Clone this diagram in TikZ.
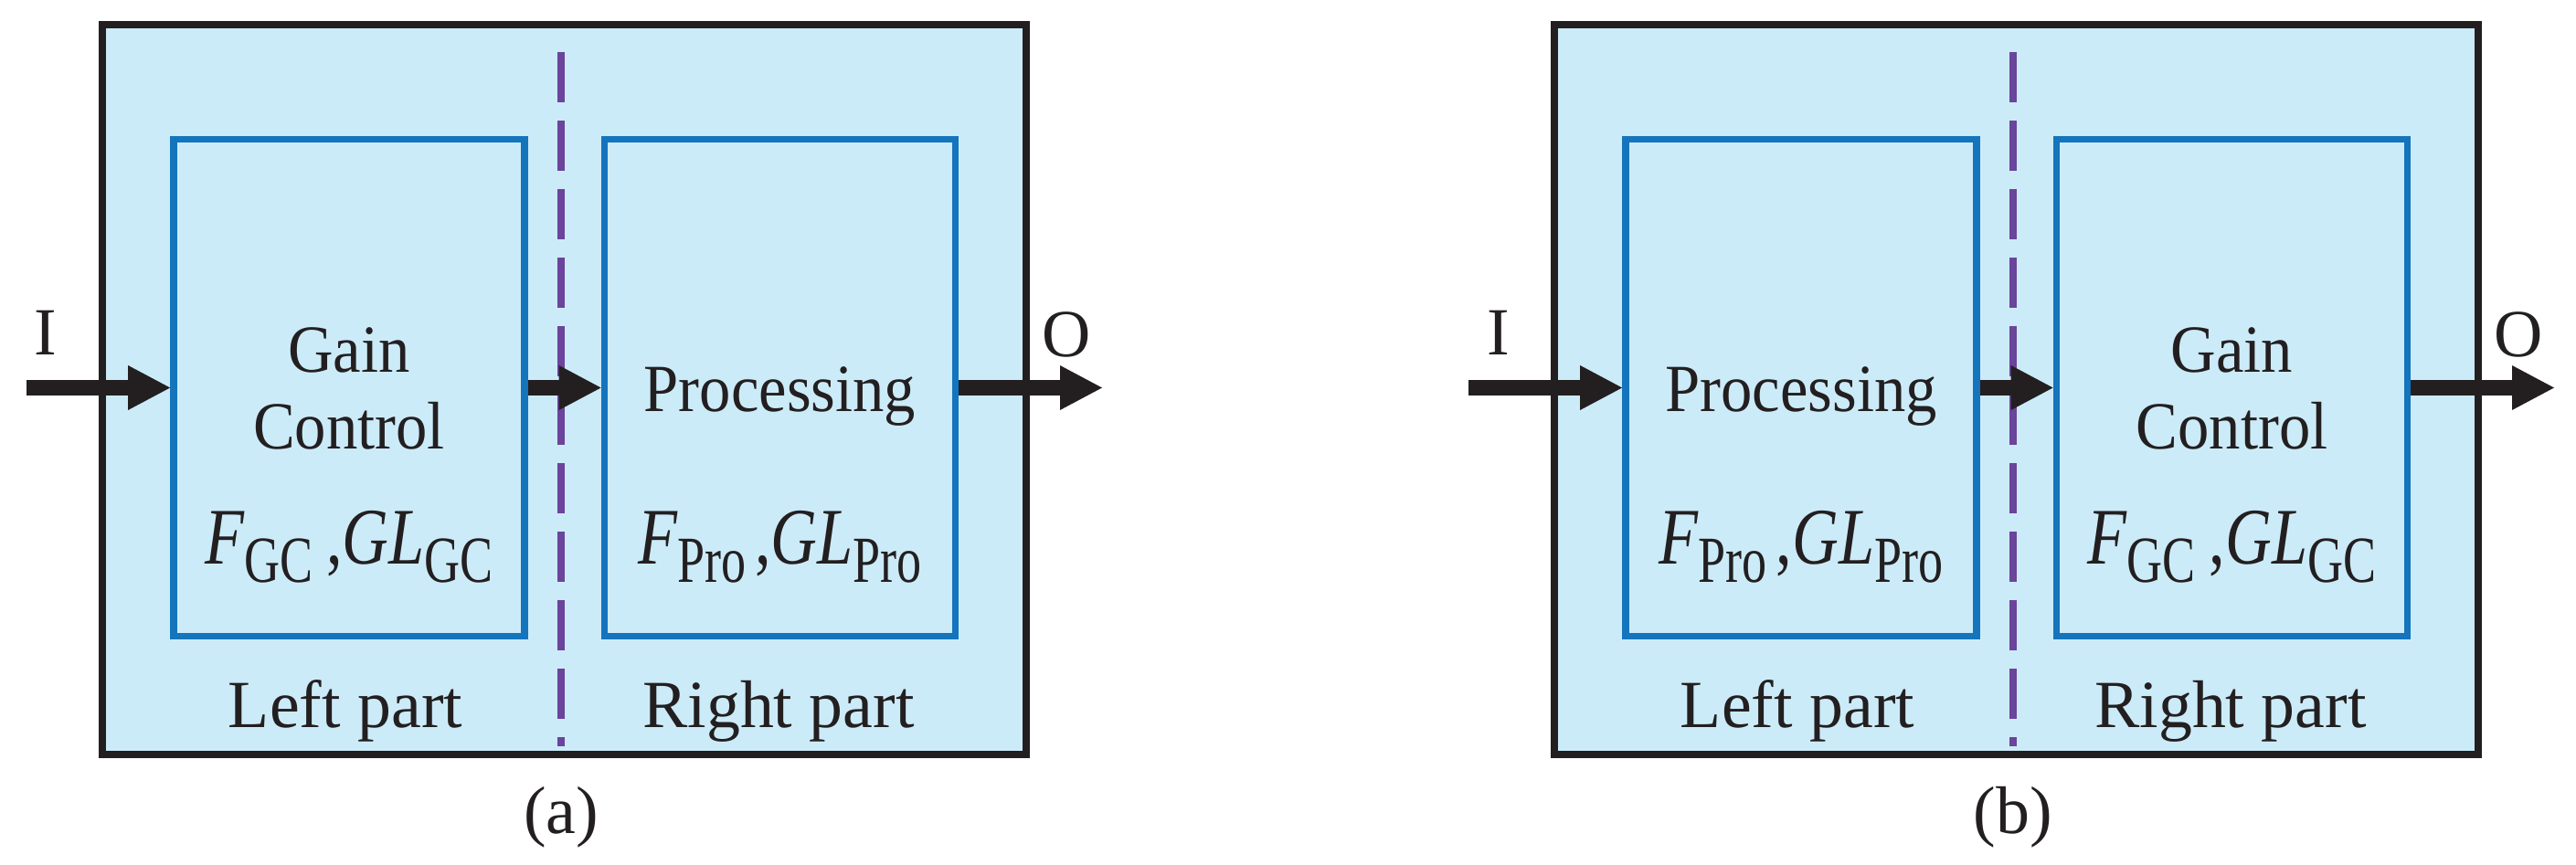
\documentclass[tikz,border=0pt]{standalone}
\usepackage{fontspec}
\setmainfont{Liberation Serif}
\newfontfamily\boxfont[FakeStretch=0.93]{Liberation Serif}
\newfontfamily\eqfont[FakeStretch=0.8]{Liberation Serif}
\newfontfamily\subfont[FakeStretch=0.75]{Liberation Serif}
\usepackage{tikz}
\usetikzlibrary{arrows.meta}
\usepackage{xcolor}
\definecolor{panelfill}{RGB}{204,235,248}
\definecolor{unitblue}{RGB}{20,116,188}
\definecolor{splitpurple}{RGB}{107,68,155}
\definecolor{inkblack}{RGB}{35,31,32}

% symbol with upright subscript
\newcommand{\symsub}[2]{{\itshape #1}\raisebox{-0.2cm}{\subfont\fontsize{20.5}{20.5}\selectfont #2}}

\tikzset{
  framebox/.style={draw=inkblack,fill=panelfill,line width=2.2pt,inner sep=0pt,
    minimum width=10.11cm,minimum height=7.99cm},
  unitbox/.style={draw=unitblue,line width=2.2pt,inner sep=0pt,
    minimum width=3.84cm,minimum height=5.44cm},
  splitline/.style={draw=splitpurple,line width=2.2pt,dash pattern=on 5.5mm off 2mm},
  flowarrow/.style={draw=inkblack,line width=4.8pt,
    -{Triangle[length=4.6mm,width=4.9mm,line width=0pt]}},
  boxtext/.style={text=inkblack,inner sep=0pt,anchor=base,
    font=\boxfont\fontsize{21}{21}\selectfont},
  eqtext/.style={text=inkblack,inner sep=0pt,anchor=base,
    font=\eqfont\fontsize{25}{25}\selectfont},
  labeltext/.style={text=inkblack,inner sep=0pt,anchor=base,
    font=\fontsize{21}{21}\selectfont}
}

\begin{document}
\begin{tikzpicture}
  \useasboundingbox (0,0) rectangle (28.19,9.46);

  % --- panel (a): gain control first ---
  \node[framebox] (frameA) at (6.175,5.195) {};
  \node[unitbox] (gcA) at (3.82,5.215) {};
  \node[unitbox] (proA) at (8.535,5.215) {};
  \draw[splitline] (6.14,8.89) -- (6.14,1.29);

  \node[boxtext] (gainA) at (3.82,5.39) {Gain};
  \node[boxtext] (ctrlA) at (3.82,4.55) {Control};
  \node[eqtext] (fgcA) at (3.82,3.29) {\symsub{F}{GC}\hspace{0.15cm},\symsub{GL}{GC}};
  \node[boxtext] (procA) at (8.535,4.96) {Processing};
  \node[eqtext] (fproA) at (8.535,3.29) {\symsub{F}{Pro}\hspace{0.1cm},\symsub{GL}{Pro}};
  \node[labeltext] (leftA) at (3.78,1.50) {Left part};
  \node[labeltext] (rightA) at (8.52,1.50) {Right part};
  \node[labeltext] (capA) at (6.14,0.34) {(a)};

  \node[labeltext] (inLblA) at (0.50,5.57) {I};
  \node[labeltext] (outLblA) at (11.67,5.56) {O};
  \coordinate (inA) at (0.29,5.215);
  \coordinate (outA) at (12.06,5.215);
  \draw[flowarrow] (inA) -- (gcA.west);
  \draw[flowarrow] (gcA.east) -- (proA.west);
  \draw[flowarrow] (proA.east) -- (outA);

  % --- panel (b): processing first ---
  \begin{scope}[xshift=15.89cm]
    \node[framebox] (frameB) at (6.175,5.195) {};
    \node[unitbox] (proB) at (3.82,5.215) {};
    \node[unitbox] (gcB) at (8.535,5.215) {};
    \draw[splitline] (6.14,8.89) -- (6.14,1.29);

    \node[boxtext] (procB) at (3.82,4.96) {Processing};
    \node[eqtext] (fproB) at (3.82,3.29) {\symsub{F}{Pro}\hspace{0.1cm},\symsub{GL}{Pro}};
    \node[boxtext] (gainB) at (8.535,5.39) {Gain};
    \node[boxtext] (ctrlB) at (8.535,4.55) {Control};
    \node[eqtext] (fgcB) at (8.535,3.29) {\symsub{F}{GC}\hspace{0.15cm},\symsub{GL}{GC}};
    \node[labeltext] (leftB) at (3.78,1.50) {Left part};
    \node[labeltext] (rightB) at (8.52,1.50) {Right part};
    \node[labeltext] (capB) at (6.14,0.34) {(b)};

    \node[labeltext] (inLblB) at (0.51,5.57) {I};
    \node[labeltext] (outLblB) at (11.67,5.56) {O};
    \coordinate (inB) at (0.18,5.215);
    \coordinate (outB) at (12.06,5.215);
    \draw[flowarrow] (inB) -- (proB.west);
    \draw[flowarrow] (proB.east) -- (gcB.west);
    \draw[flowarrow] (gcB.east) -- (outB);
  \end{scope}

\end{tikzpicture}
\end{document}
